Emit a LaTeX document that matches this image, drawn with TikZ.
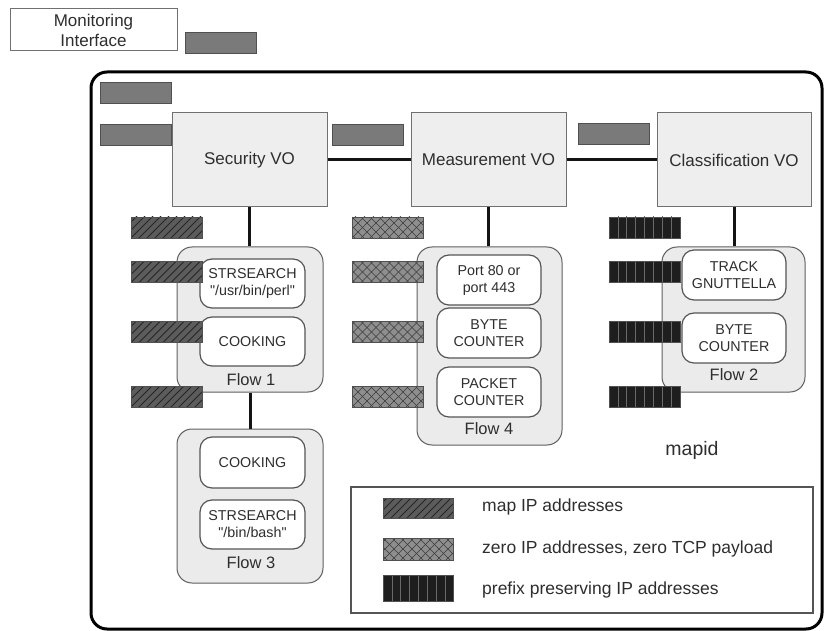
\documentclass[tikz,border=0pt]{standalone}
\usepackage{fontspec}
\setmainfont{Liberation Sans}
\newfontfamily\plainsans{Liberation Sans}
\newcommand\dq{{\plainsans"}}
\newcommand\fsz[2]{\fontsize{#1}{#2}\selectfont}
\definecolor{ink}{HTML}{2E2E2E}
\definecolor{vofill}{HTML}{EEEEEE}
\definecolor{voline}{HTML}{707070}
\definecolor{flowfill}{HTML}{EBEBEB}
\definecolor{flowline}{HTML}{5F5F5F}
\definecolor{opline}{HTML}{555555}
\definecolor{solidfill}{HTML}{7A7A7A}
\definecolor{baredge}{HTML}{505050}
\definecolor{hatchfill}{HTML}{5C5C5C}
\definecolor{hatchline}{HTML}{262626}
\definecolor{crossfill}{HTML}{8E8E8E}
\definecolor{crossline}{HTML}{3A3A3A}
\definecolor{vertfill}{HTML}{1E1E1E}
\definecolor{vertline}{HTML}{6A6A6A}
\tikzset{
  label/.style={text=ink, inner sep=0pt},
  vo/.style={draw=voline, fill=vofill, line width=1pt, minimum width=155pt,
    minimum height=94pt, text=ink, font=\fsz{17}{20}},
  flowbox/.style={draw=flowline, fill=flowfill, rounded corners=15pt,
    line width=1pt, inner sep=0pt},
  opbox/.style={draw=opline, fill=white, rounded corners=12pt, line width=1.2pt,
    minimum width=105pt, minimum height=49pt, align=center, text=ink,
    inner sep=1pt, font=\fsz{14.3}{17}},
  flowlabel/.style={label, font=\fsz{16.5}{19}},
  conn/.style={line width=3pt, draw=black!92},
  bar/.style={minimum width=71pt, minimum height=21pt, inner sep=0pt,
    line width=0.8pt, draw=baredge},
  solidbar/.style={bar, fill=solidfill},
  hatchbar/.style={bar, fill=hatchfill,
    path picture={\foreach \i in {-32,-24,...,80}{
      \draw[hatchline, line width=1pt]
        ([xshift=\i pt]path picture bounding box.south west) -- ++(32pt,32pt);}}},
  crossbar/.style={bar, fill=crossfill,
    path picture={\foreach \i in {-36,-27,...,90}{
      \draw[crossline, line width=0.6pt]
        ([xshift=\i pt]path picture bounding box.south west) -- ++(36pt,36pt);
      \draw[crossline, line width=0.6pt]
        ([xshift=\i pt]path picture bounding box.north west) -- ++(36pt,-36pt);}}},
  vertbar/.style={bar, fill=vertfill,
    path picture={\foreach \i in {8.875,17.75,...,63}{
      \draw[vertline, line width=0.6pt]
        ([xshift=\i pt]path picture bounding box.south west) -- ++(0pt,40pt);}}},
}
\begin{document}
\begin{tikzpicture}[x=1pt, y=-1pt]
\useasboundingbox (0,0) rectangle (825,631);

% monitoring interface
\node[draw=voline, fill=white, line width=1pt, minimum width=167pt,
  minimum height=42pt, align=center, text=ink, font=\fsz{17}{20}, inner sep=0pt]
  (mon) at (93.5,30) {Monitoring\\Interface};
\node[solidbar] (monbar) at (220.5,42.5) {};

% mapid frame
\draw[line width=3pt, rounded corners=16pt] (91,72) rectangle (822,629);

% virtual operators
\node[vo] (sec) at (249.5,160) {Security VO};
\node[vo] (meas) at (488.5,160) {Measurement VO};
\node[vo, minimum width=154pt] (cls) at (734,160) {Classification VO};

% flows
\node[flowbox, minimum width=146pt, minimum height=145pt] (f1) at (250,319.5) {};
\node[flowbox, minimum width=146pt, minimum height=154pt] (f3) at (250,506) {};
\node[flowbox, minimum width=145pt, minimum height=198pt] (f4) at (489.5,346) {};
\node[flowbox, minimum width=143pt, minimum height=145pt] (f2) at (733.5,319.5) {};

% connectors
\draw[conn] (sec.east) -- (meas.west);
\draw[conn] (meas.east) -- (cls.west);
\draw[conn] (sec.south) -- (sec.south |- f1.north);
\draw[conn] (f1.south) -- (f1.south |- f3.north);
\draw[conn] (meas.south) -- (meas.south |- f4.north);
\draw[conn] (cls.south) -- (cls.south |- f2.north);

% functions inside flows
\node[opbox] (f1str) at (252.5,283.5) {STRSEARCH\\\dq/usr/bin/perl\dq};
\node[opbox] (f1cook) at (252.5,341.5) {COOKING};
\node[flowlabel] (f1lab) at (251,380) {Flow 1};

\node[opbox, minimum height=51pt] (f3cook) at (252.5,462.5) {COOKING};
\node[opbox] (f3str) at (252.5,524.5) {STRSEARCH\\\dq/bin/bash\dq};
\node[flowlabel] (f3lab) at (251,563) {Flow 3};

\node[opbox, minimum width=104pt, minimum height=50pt] (f4port) at (489,280) {Port 80 or\\port 443};
\node[opbox, minimum width=104pt, minimum height=50pt] (f4byte) at (489,333) {BYTE\\COUNTER};
\node[opbox, minimum width=104pt, minimum height=50pt] (f4pkt) at (489,392) {PACKET\\COUNTER};
\node[flowlabel] (f4lab) at (489,429) {Flow 4};

\node[opbox, minimum width=104pt, minimum height=50pt] (f2track) at (734,275) {TRACK\\GNUTTELLA};
\node[opbox, minimum width=104pt, minimum height=50pt] (f2byte) at (734,338) {BYTE\\COUNTER};
\node[flowlabel] (f2lab) at (734,375) {Flow 2};

\node[label, font=\fsz{19.5}{22}] (mapid) at (692,450) {mapid};

% plain packet buffers
\node[solidbar] (g1) at (135.5,92.5) {};
\node[solidbar] (g2) at (135.5,134.5) {};
\node[solidbar] (g3) at (368,134.5) {};
\node[solidbar] (g4) at (613.5,133.5) {};

% anonymized packet buffers
\foreach \y [count=\k] in {227.5,272,332,396.5}{
  \node[hatchbar] (h\k) at (166.5,\y) {};
  \node[crossbar] (c\k) at (387.5,\y) {};
  \node[vertbar] (v\k) at (644.5,\y) {};
}

% legend
\draw[draw=opline, line width=1.3pt] (351,487) rectangle (813,613);
\node[hatchbar, minimum width=70pt, minimum height=20pt] (lh) at (418,508) {};
\node[crossbar, minimum width=70pt, minimum height=22pt] (lc) at (418,549) {};
\node[vertbar, minimum width=70pt, minimum height=26pt] (lv) at (418,588.5) {};
\node[label, anchor=west, font=\fsz{17.5}{20}] (lht) at (482,507) {map IP addresses};
\node[label, anchor=west, font=\fsz{17.5}{20}] (lct) at (482,549) {zero IP addresses, zero TCP payload};
\node[label, anchor=west, font=\fsz{17.5}{20}] (lvt) at (482,590) {prefix preserving IP addresses};
\end{tikzpicture}
\end{document}
